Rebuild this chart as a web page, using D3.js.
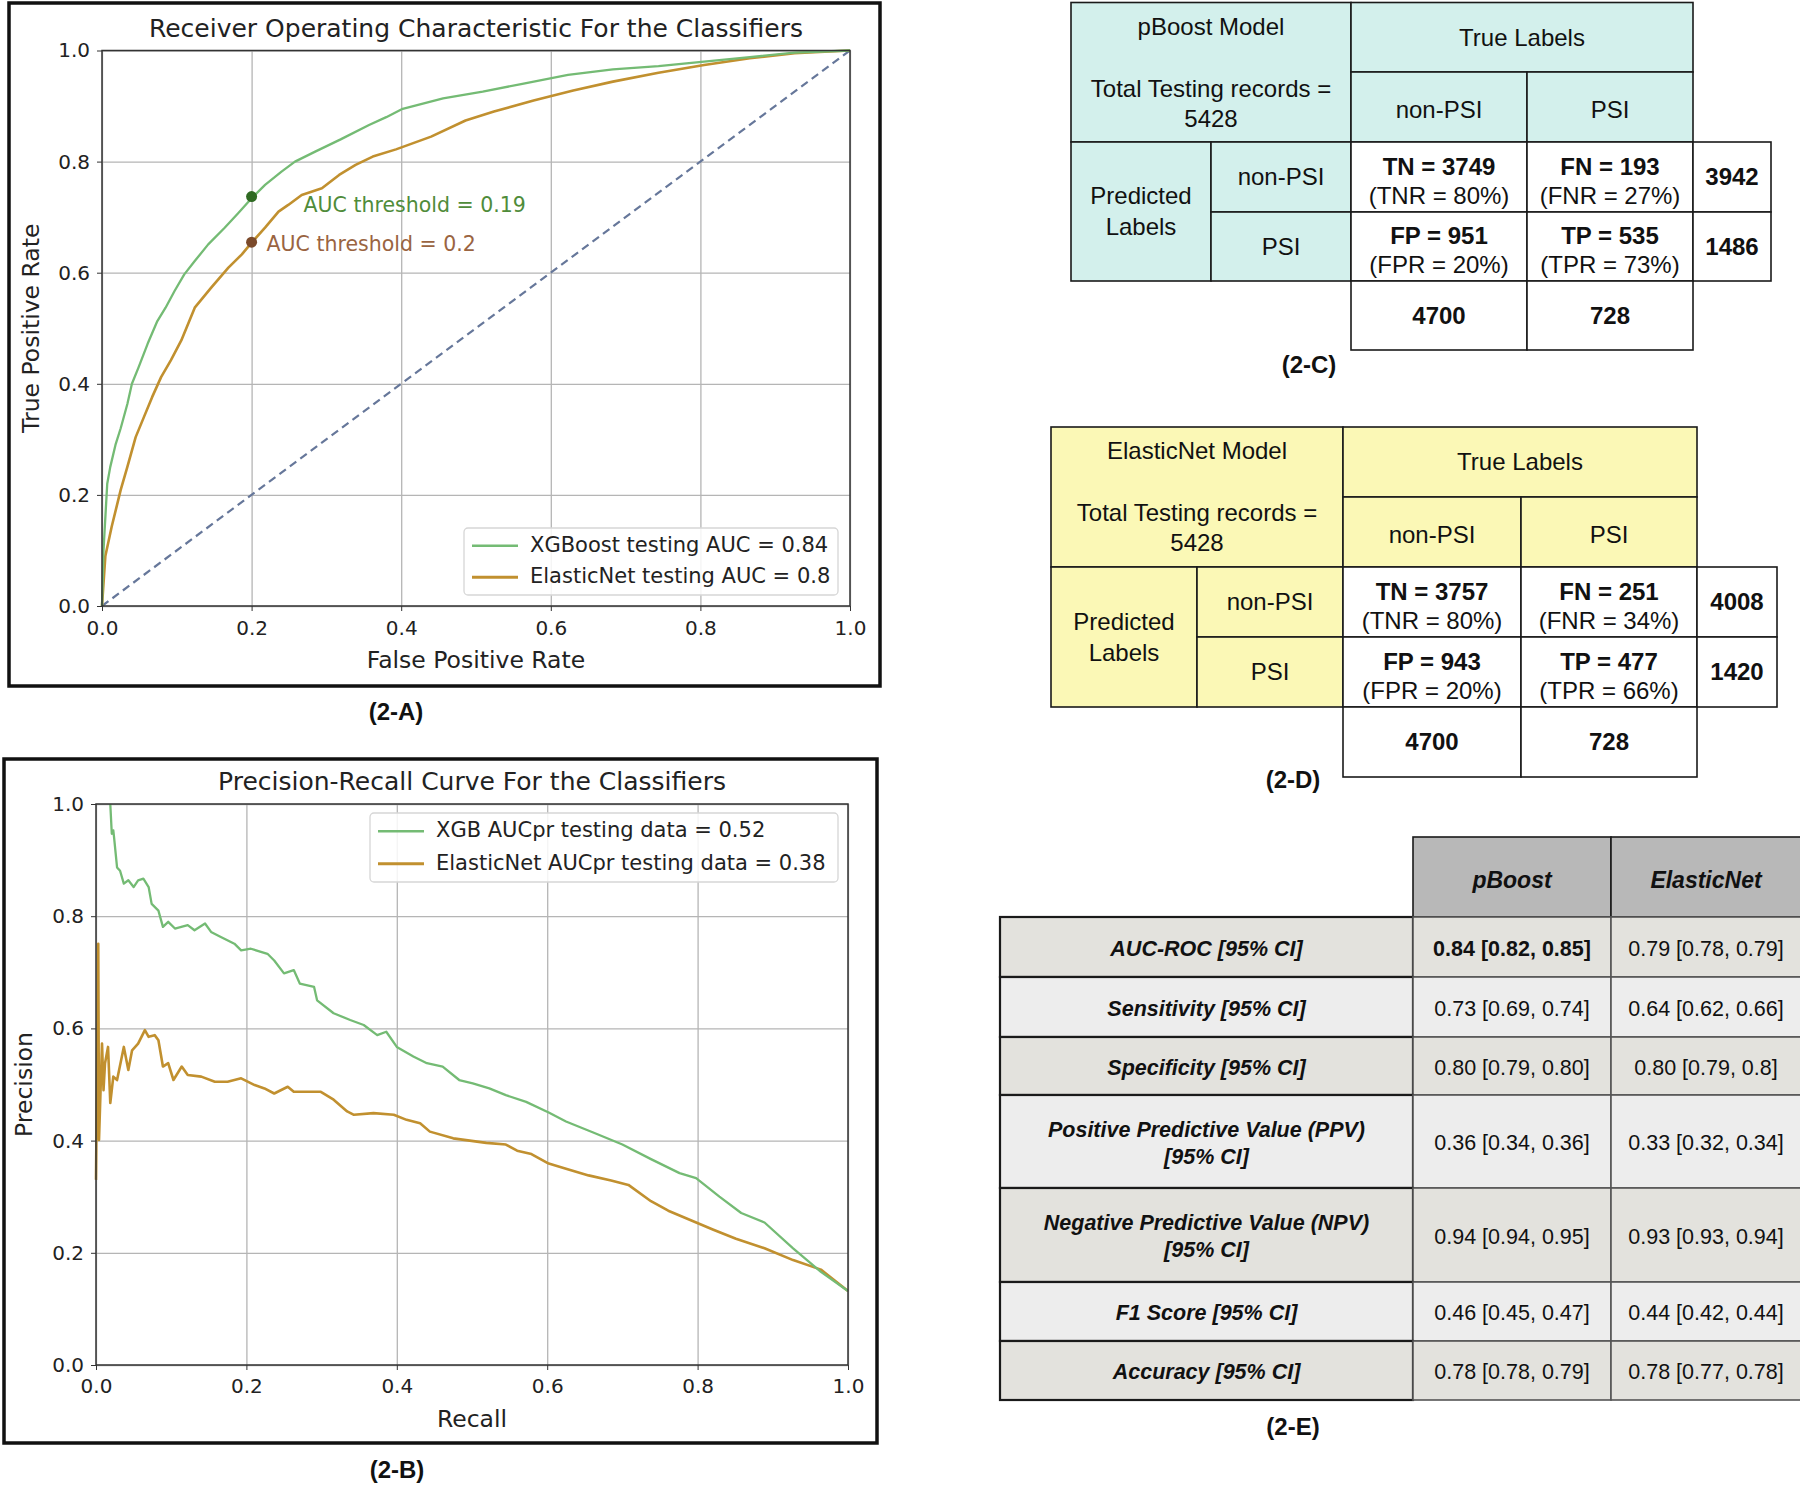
<!DOCTYPE html>
<html>
<head>
<meta charset="utf-8">
<script src="https://cdn.jsdelivr.net/npm/d3@7"></script>
<style>
body { margin: 0; background: #fff; }
svg text { font-family: "DejaVu Sans", sans-serif; fill: #222; }
.tbl text { font-family: "Liberation Sans Narrow", "Liberation Sans", Arial, sans-serif; fill: #111; }
</style>
</head>
<body>
<div id="fig"></div>
<script>
// ---- data ----
var axisTicks = [0, 0.2, 0.4, 0.6, 0.8, 1.0];

var xgbRoc = [[0,0],[0.002,0.1],[0.007,0.22],[0.011,0.25],[0.018,0.29],[0.025,0.32],[0.034,0.364],[0.04,0.4],
  [0.049,0.43],[0.061,0.472],[0.074,0.513],[0.085,0.537],[0.097,0.567],[0.11,0.597],[0.124,0.621],[0.142,0.651],
  [0.164,0.681],[0.182,0.707],[0.2,0.734],[0.218,0.758],[0.24,0.782],[0.258,0.8],[0.285,0.818],[0.319,0.84],
  [0.357,0.866],[0.38,0.88],[0.402,0.895],[0.456,0.914],[0.509,0.926],[0.562,0.94],[0.623,0.956],[0.683,0.966],
  [0.744,0.972],[0.805,0.98],[0.866,0.988],[0.926,0.996],[1,1]];
var enetRoc = [[0,0],[0.0045,0.09],[0.013,0.143],[0.025,0.209],[0.034,0.251],[0.045,0.304],[0.056,0.34],[0.067,0.376],
  [0.079,0.412],[0.092,0.442],[0.106,0.478],[0.124,0.537],[0.146,0.573],[0.169,0.609],[0.187,0.633],[0.2,0.654],
  [0.218,0.681],[0.236,0.71],[0.249,0.722],[0.267,0.74],[0.294,0.752],[0.317,0.776],[0.339,0.794],[0.362,0.809],
  [0.393,0.822],[0.44,0.845],[0.486,0.874],[0.524,0.89],[0.577,0.91],[0.63,0.928],[0.683,0.944],[0.744,0.96],
  [0.805,0.974],[0.866,0.986],[0.926,0.995],[1,1]];
var rocThresholds = [[0.2,0.737,"AUC threshold = 0.19"],[0.2,0.655,"AUC threshold = 0.2"]];
var rocLegend = ["XGBoost testing AUC = 0.84", "ElasticNet testing AUC = 0.8"];

var xgbPr = [[0.019,1.0],[0.021,0.947],[0.023,0.953],[0.024,0.941],[0.028,0.887],[0.032,0.881],[0.037,0.858],[0.043,0.864],
  [0.05,0.852],[0.056,0.864],[0.063,0.867],[0.07,0.852],[0.074,0.822],[0.083,0.81],[0.089,0.781],[0.096,0.79],
  [0.105,0.778],[0.122,0.784],[0.131,0.775],[0.145,0.787],[0.153,0.772],[0.166,0.763],[0.184,0.751],[0.193,0.739],
  [0.206,0.742],[0.228,0.733],[0.237,0.721],[0.25,0.698],[0.263,0.704],[0.271,0.68],[0.29,0.674],[0.294,0.65],
  [0.316,0.627],[0.338,0.615],[0.356,0.606],[0.374,0.588],[0.386,0.594],[0.4,0.567],[0.422,0.55],[0.44,0.538],
  [0.461,0.532],[0.483,0.508],[0.501,0.502],[0.523,0.493],[0.545,0.481],[0.572,0.469],[0.602,0.45],[0.625,0.434],
  [0.662,0.414],[0.7,0.393],[0.738,0.367],[0.776,0.342],[0.798,0.333],[0.829,0.3],[0.858,0.271],[0.889,0.254],
  [0.927,0.208],[0.964,0.166],[1,0.132]];
var enetPr = [[0,0.33],[0.003,0.751],[0.004,0.401],[0.008,0.573],[0.01,0.49],[0.012,0.538],[0.016,0.567],[0.019,0.467],
  [0.023,0.514],[0.028,0.508],[0.037,0.567],[0.043,0.526],[0.048,0.561],[0.056,0.573],[0.065,0.597],[0.07,0.585],
  [0.078,0.588],[0.083,0.579],[0.089,0.532],[0.096,0.538],[0.103,0.508],[0.114,0.532],[0.122,0.517],[0.14,0.514],
  [0.158,0.505],[0.175,0.505],[0.193,0.511],[0.211,0.499],[0.224,0.493],[0.237,0.484],[0.255,0.496],[0.263,0.487],
  [0.299,0.487],[0.316,0.473],[0.334,0.452],[0.343,0.446],[0.369,0.449],[0.396,0.446],[0.413,0.437],[0.431,0.431],
  [0.444,0.416],[0.475,0.404],[0.519,0.396],[0.545,0.393],[0.56,0.382],[0.579,0.376],[0.602,0.359],[0.625,0.35],
  [0.655,0.338],[0.685,0.329],[0.708,0.321],[0.738,0.292],[0.761,0.275],[0.791,0.258],[0.821,0.241],[0.851,0.225],
  [0.889,0.208],[0.927,0.187],[0.964,0.17],[1,0.132]];
var prLegend = ["XGB AUCpr testing data = 0.52", "ElasticNet AUCpr testing data = 0.38"];

var cmClasses = ["non-PSI", "PSI"];
var pboostCells = [["TN = 3749","(TNR = 80%)"],["FN = 193","(FNR = 27%)"],["FP = 951","(FPR = 20%)"],["TP = 535","(TPR = 73%)"]];
var pboostRowTotals = [3942, 1486];
var pboostColTotals = [4700, 728];
var enetCells = [["TN = 3757","(TNR = 80%)"],["FN = 251","(FNR = 34%)"],["FP = 943","(FPR = 20%)"],["TP = 477","(TPR = 66%)"]];
var enetRowTotals = [4008, 1420];
var enetColTotals = [4700, 728];
var totalRecords = 5428;

var metricModels = ["pBoost", "ElasticNet"];
var metricLabels = [["AUC-ROC [95% CI]"],["Sensitivity [95% CI]"],["Specificity [95% CI]"],
  ["Positive Predictive Value (PPV)","[95% CI]"],["Negative Predictive Value (NPV)","[95% CI]"],
  ["F1 Score [95% CI]"],["Accuracy [95% CI]"]];
var pboostMetrics = ["0.84 [0.82, 0.85]","0.73 [0.69, 0.74]","0.80 [0.79, 0.80]","0.36 [0.34, 0.36]","0.94 [0.94, 0.95]","0.46 [0.45, 0.47]","0.78 [0.78, 0.79]"];
var enetMetrics = ["0.79 [0.78, 0.79]","0.64 [0.62, 0.66]","0.80 [0.79, 0.8]","0.33 [0.32, 0.34]","0.93 [0.93, 0.94]","0.44 [0.42, 0.44]","0.78 [0.77, 0.78]"];

// ---- drawing ----
var green = "#74bb74", brown = "#c1902f";
var svg = d3.select("#fig").append("svg").attr("width", 1800).attr("height", 1488);
svg.append("rect").attr("width", 1800).attr("height", 1488).attr("fill", "#fff");

function styleTicks(s) {
  s.select(".domain").remove();
  s.selectAll("line").attr("stroke", "#333");
  s.selectAll("text").attr("font-size", 20).attr("font-family", "DejaVu Sans").attr("fill", "#222");
}

function drawPanel(p) {
  svg.append("rect").attr("x", p.frame[0]).attr("y", p.frame[1])
    .attr("width", p.frame[2] - p.frame[0]).attr("height", p.frame[3] - p.frame[1])
    .attr("fill", "none").attr("stroke", "#111").attr("stroke-width", 3.5);

  var x = d3.scaleLinear().domain([0, 1]).range([p.l, p.r]);
  var y = d3.scaleLinear().domain([0, 1]).range([p.b, p.t]);
  var g = svg.append("g");

  // grid
  g.append("g").attr("transform", "translate(0," + p.b + ")")
    .call(d3.axisBottom(x).tickValues(axisTicks).tickSize(-(p.b - p.t)).tickFormat(""))
    .call(function(s) { s.select(".domain").remove(); s.selectAll("line").attr("stroke", "#b5b5b5").attr("stroke-width", 1.3); });
  g.append("g").attr("transform", "translate(" + p.l + ",0)")
    .call(d3.axisLeft(y).tickValues(axisTicks).tickSize(-(p.r - p.l)).tickFormat(""))
    .call(function(s) { s.select(".domain").remove(); s.selectAll("line").attr("stroke", "#b5b5b5").attr("stroke-width", 1.3); });

  var line = d3.line().x(function(d) { return x(d[0]); }).y(function(d) { return y(d[1]); });

  if (p.diag) {
    g.append("path").datum([[0,0],[1,1]]).attr("d", line)
      .attr("stroke", "#66779a").attr("stroke-width", 2.2).attr("stroke-dasharray", "8,5").attr("fill", "none");
  }
  g.append("path").datum(p.s2).attr("d", line).attr("fill", "none").attr("stroke", brown).attr("stroke-width", 2.6)
    .attr("stroke-linejoin", "round");
  g.append("path").datum(p.s1).attr("d", line).attr("fill", "none").attr("stroke", green).attr("stroke-width", 2.3)
    .attr("stroke-linejoin", "round");

  // spines
  g.append("rect").attr("x", p.l).attr("y", p.t).attr("width", p.r - p.l).attr("height", p.b - p.t)
    .attr("fill", "none").attr("stroke", "#333").attr("stroke-width", 1.5);

  var fmt = d3.format(".1f");
  g.append("g").attr("transform", "translate(0," + p.b + ")")
    .call(d3.axisBottom(x).tickValues(axisTicks).tickFormat(fmt).tickSize(5).tickPadding(p.xpad))
    .call(styleTicks);
  g.append("g").attr("transform", "translate(" + p.l + ",0)")
    .call(d3.axisLeft(y).tickValues(axisTicks).tickFormat(fmt).tickSize(5).tickPadding(7))
    .call(styleTicks);

  var cx = (p.l + p.r) / 2;
  g.append("text").attr("x", cx).attr("y", p.t - 21).attr("text-anchor", "middle").attr("dominant-baseline", "middle")
    .attr("font-size", 25).text(p.title);
  g.append("text").attr("x", cx).attr("y", p.b + 55).attr("text-anchor", "middle").attr("dominant-baseline", "middle")
    .attr("font-size", 23.5).text(p.xlabel);
  g.append("text").attr("transform", "translate(" + p.ylx + "," + ((p.t + p.b) / 2) + ") rotate(-90)")
    .attr("text-anchor", "middle").attr("dominant-baseline", "middle").attr("font-size", 23.5).text(p.ylabel);

  // legend
  var lg = g.append("g");
  lg.append("rect").attr("x", p.leg[0]).attr("y", p.leg[1]).attr("width", p.leg[2] - p.leg[0]).attr("height", p.leg[3] - p.leg[1])
    .attr("rx", 4).attr("fill", "#fff").attr("fill-opacity", 0.85).attr("stroke", "#d6d6d6").attr("stroke-width", 1.3);
  var rowH = (p.leg[3] - p.leg[1]) / 2;
  [green, brown].forEach(function(c, i) {
    var yy = p.leg[1] + rowH * (i + 0.5) + (i === 0 ? 1 : -1);
    lg.append("line").attr("x1", p.leg[0] + 8).attr("x2", p.leg[0] + 54).attr("y1", yy).attr("y2", yy)
      .attr("stroke", c).attr("stroke-width", i === 0 ? 2.6 : 3.2);
    lg.append("text").attr("x", p.leg[0] + 66).attr("y", yy).attr("dominant-baseline", "middle")
      .attr("font-size", 21).text(p.legend[i]);
  });

  if (p.marks) {
    var mc = [["#2f6a22", "#4f8c3a"], ["#7b4a2b", "#9a6441"]];
    p.marks.forEach(function(m, i) {
      g.append("circle").attr("cx", x(m[0])).attr("cy", y(m[1])).attr("r", 5.5).attr("fill", mc[i][0]);
    });
    g.append("text").attr("x", x(p.marks[0][0]) + 52).attr("y", y(p.marks[0][1]) + 9).attr("dominant-baseline", "middle")
      .attr("font-size", 20.5).style("fill", mc[0][1]).text(p.marks[0][2]);
    g.append("text").attr("x", x(p.marks[1][0]) + 15).attr("y", y(p.marks[1][1]) + 3).attr("dominant-baseline", "middle")
      .attr("font-size", 20.5).style("fill", mc[1][1]).text(p.marks[1][2]);
  }
}

drawPanel({ frame: [9, 3, 880, 686], l: 102, r: 850, t: 50.5, b: 606, ylx: 32, xpad: 10,
  title: "Receiver Operating Characteristic For the Classifiers", xlabel: "False Positive Rate", ylabel: "True Positive Rate",
  s1: xgbRoc, s2: enetRoc, diag: true, leg: [464, 528, 838, 595], legend: rocLegend, marks: rocThresholds });

drawPanel({ frame: [4, 759, 877, 1443], l: 96, r: 848, t: 804, b: 1365, ylx: 25, xpad: 9,
  title: "Precision-Recall Curve For the Classifiers", xlabel: "Recall", ylabel: "Precision",
  s1: xgbPr, s2: enetPr, diag: false, leg: [370, 813, 838, 882], legend: prLegend });

function caption(x, y, t) {
  svg.append("text").attr("x", x).attr("y", y).attr("text-anchor", "middle").attr("dominant-baseline", "middle")
    .style("font-family", "Liberation Sans, Arial, sans-serif")
    .attr("font-weight", "bold").attr("font-size", 24).style("fill", "#111").text(t);
}
caption(396, 714, "(2-A)");
caption(397, 1472, "(2-B)");

// ---- tables ----
var tbl = svg.append("g").attr("class", "tbl");

function cell(x0, y0, x1, y1, fill, lines, opt) {
  opt = opt || {};
  tbl.append("rect").attr("x", x0).attr("y", y0).attr("width", x1 - x0).attr("height", y1 - y0)
    .attr("fill", fill).attr("stroke", opt.stroke || "#1a1a1a").attr("stroke-width", opt.sw || 1.6);
  var n = lines.length, lh = opt.lh || 29;
  var cy = (y0 + y1) / 2 - (n - 1) * lh / 2 + (opt.dy || 2);
  lines.forEach(function(l, i) {
    var t = typeof l === "string" ? { t: l } : l;
    tbl.append("text").attr("x", (x0 + x1) / 2).attr("y", t.y != null ? y0 + t.y : cy + i * lh)
      .attr("text-anchor", "middle").attr("dominant-baseline", "middle")
      .attr("font-size", t.fs || opt.fs || 24).attr("font-weight", t.b ? "bold" : "normal")
      .attr("font-style", t.it ? "italic" : "normal").text(t.t);
  });
}

function confusion(cols, rows, fill, model, cells, rowTot, colTot) {
  cell(cols[0], rows[0], cols[2], rows[2], fill, [{ t: model, y: 26 }, { t: "Total Testing records =", y: 88 }, { t: String(totalRecords), y: 118 }]);
  cell(cols[2], rows[0], cols[4], rows[1], fill, [{ t: "True Labels", y: 37 }]);
  cell(cols[2], rows[1], cols[3], rows[2], fill, [cmClasses[0]], { dy: 5 });
  cell(cols[3], rows[1], cols[4], rows[2], fill, [cmClasses[1]], { dy: 5 });
  cell(cols[0], rows[2], cols[1], rows[4], fill, ["Predicted", "Labels"], { lh: 31 });
  cell(cols[1], rows[2], cols[2], rows[3], fill, [cmClasses[0]]);
  cell(cols[1], rows[3], cols[2], rows[4], fill, [cmClasses[1]]);
  for (var r = 0; r < 2; r++) {
    for (var c = 0; c < 2; c++) {
      var v = cells[r * 2 + c];
      cell(cols[2 + c], rows[2 + r], cols[3 + c], rows[3 + r], "#fff", [{ t: v[0], b: true }, { t: v[1] }], { lh: 29, dy: 6 });
    }
    cell(cols[4], rows[2 + r], cols[5], rows[3 + r], "#fff", [{ t: String(rowTot[r]), b: true }]);
  }
  for (var k = 0; k < 2; k++) {
    cell(cols[2 + k], rows[4], cols[3 + k], rows[5], "#fff", [{ t: String(colTot[k]), b: true }]);
  }
}

confusion([1071, 1211, 1351, 1527, 1693, 1771], [2.5, 72, 142, 212, 281, 350], "#d3f0ec", "pBoost Model", pboostCells, pboostRowTotals, pboostColTotals);
confusion([1051, 1197, 1343, 1521, 1697, 1777], [427, 497, 567, 637, 707, 777], "#fbf8b6", "ElasticNet Model", enetCells, enetRowTotals, enetColTotals);
caption(1309, 367, "(2-C)");
caption(1293, 782, "(2-D)");

// metrics table
var mCols = [1000, 1413, 1611, 1801];
var mRows = [837, 917, 977, 1037, 1095, 1188, 1282, 1341, 1400];
cell(mCols[1], mRows[0], mCols[2], mRows[1], "#b8b8b8", [{ t: metricModels[0], b: true, it: true }], { fs: 23, dy: 5 });
cell(mCols[2], mRows[0], mCols[3], mRows[1], "#b8b8b8", [{ t: metricModels[1], b: true, it: true }], { fs: 23, dy: 5 });
metricLabels.forEach(function(lab, i) {
  var fill = i % 2 === 0 ? "#e3e2dd" : "#ededed";
  var y0 = mRows[i + 1], y1 = mRows[i + 2];
  cell(mCols[0], y0, mCols[1], y1, fill, lab.map(function(t) { return { t: t, b: true, it: true }; }), { fs: 21.5, lh: 27, sw: 2.2, dy: 3 });
  cell(mCols[1], y0, mCols[2], y1, fill, [{ t: pboostMetrics[i], b: i === 0 }], { fs: 21.5, stroke: "#555", dy: 3 });
  cell(mCols[2], y0, mCols[3], y1, fill, [{ t: enetMetrics[i] }], { fs: 21.5, stroke: "#555", dy: 3 });
});
caption(1293, 1429, "(2-E)");
</script>
</body>
</html>
